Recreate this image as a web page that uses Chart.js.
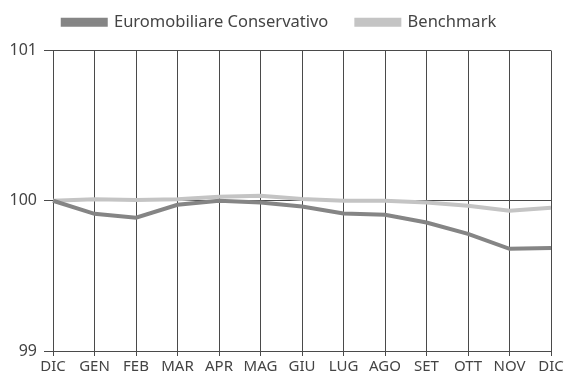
<!DOCTYPE html>
<html>
<head>
<meta charset="utf-8">
<script src="https://cdn.jsdelivr.net/npm/chart.js@4"></script>
<style>
  html, body { margin: 0; padding: 0; background: #fff; }
  #wrap { width: 568px; height: 378px; }
</style>
</head>
<body>
<div id="wrap"><canvas id="perfChart" width="568" height="378"></canvas></div>
<script>
const months = ['DIC', 'GEN', 'FEB', 'MAR', 'APR', 'MAG', 'GIU', 'LUG', 'AGO', 'SET', 'OTT', 'NOV', 'DIC'];
const fundValues = [100, 99.913, 99.887, 99.973, 100.0, 99.989, 99.962, 99.915, 99.907, 99.855, 99.78, 99.68, 99.685];
const benchmarkValues = [100, 100.01, 100.005, 100.01, 100.027, 100.033, 100.011, 100.0, 100.0, 99.989, 99.967, 99.933, 99.953];
const yTicks = [99, 100, 101];

const fontFamily = '"Noto Sans", sans-serif';
const gridColor = '#4a4a4a';
const textColor = '#444';

// nudge the legend a bit up and to the right
const legendLift = {
    id: 'legendLift',
    afterLayout(chart) {
        const lg = chart.legend;
        lg.left += 4;
        lg.right += 4;
        lg.top -= 10;
        lg.bottom -= 10;
    }
};

const ctx = document.getElementById('perfChart').getContext('2d');
new Chart(ctx, {
    type: 'line',
    data: {
        labels: months,
        datasets: [
            {
                label: 'Euromobiliare Conservativo',
                data: fundValues,
                borderColor: '#858585',
                backgroundColor: '#858585',
                borderWidth: 4,
                pointRadius: 0,
                tension: 0,
                order: 1
            },
            {
                label: 'Benchmark',
                data: benchmarkValues,
                borderColor: '#c4c4c4',
                backgroundColor: '#c4c4c4',
                borderWidth: 4,
                pointRadius: 0,
                tension: 0,
                order: 2
            }
        ]
    },
    plugins: [legendLift],
    options: {
        responsive: false,
        animation: false,
        layout: { padding: { left: 0, right: 17, top: -4, bottom: 0 } },
        plugins: {
            legend: {
                position: 'top',
                labels: {
                    boxWidth: 43,
                    boxHeight: 5,
                    padding: 28,
                    color: textColor,
                    font: { family: fontFamily, size: 16.5 }
                }
            },
            tooltip: { enabled: false }
        },
        scales: {
            x: {
                offset: false,
                grid: { color: gridColor, lineWidth: 1, tickLength: 5 },
                border: { color: gridColor },
                ticks: {
                    color: textColor,
                    maxRotation: 0,
                    autoSkip: false,
                    padding: 2,
                    font: { family: fontFamily, size: 15 }
                }
            },
            y: {
                min: 99,
                max: 101,
                afterFit: (scale) => { scale.width = 53; },
                afterBuildTicks: (scale) => { scale.ticks = yTicks.map(v => ({ value: v })); },
                grid: { color: gridColor, lineWidth: 1, tickLength: 9 },
                border: { color: gridColor },
                ticks: {
                    color: textColor,
                    padding: 7,
                    font: { family: fontFamily, size: 16 }
                }
            }
        }
    }
});
</script>
</body>
</html>
